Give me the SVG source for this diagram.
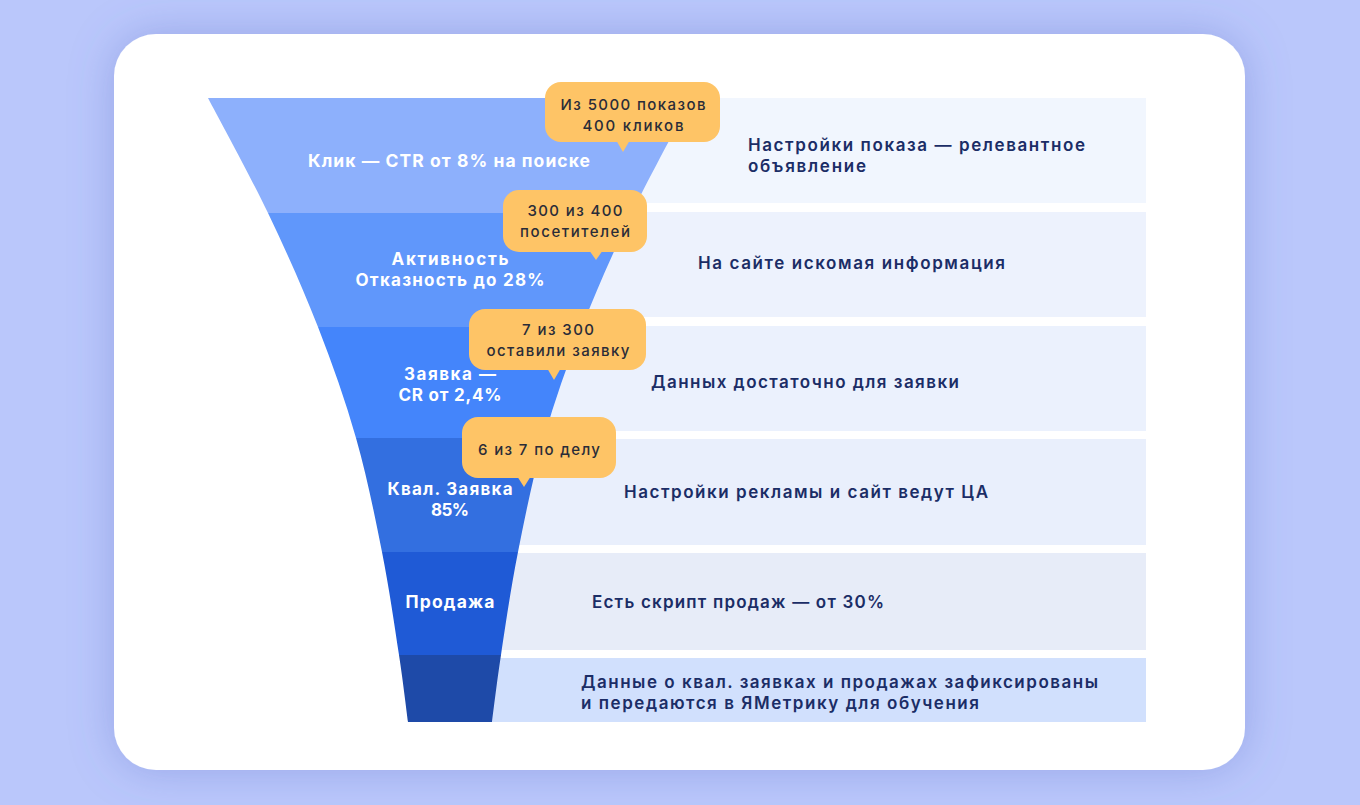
<svg xmlns="http://www.w3.org/2000/svg" width="1360" height="805" viewBox="0 0 1360 805">
<defs>
<style>
.ft{font-family:Inter,"Open Sans","Liberation Sans",sans-serif;font-weight:700;font-size:17px;fill:#ffffff;text-anchor:middle}
.f1{font-size:17.5px}
.rt{font-family:Inter,"Open Sans","Liberation Sans",sans-serif;font-weight:600;font-size:17px;fill:#1b2d66}
.ct{font-family:Inter,"Open Sans","Liberation Sans",sans-serif;font-weight:500;font-size:15px;fill:#2a2c38;text-anchor:middle}
.co{fill:#fec466}
</style>
<filter id="sh" x="-10%" y="-10%" width="120%" height="120%">
<feDropShadow dx="0" dy="0" stdDeviation="22" flood-color="#5468c4" flood-opacity="0.35"/>
</filter>
<clipPath id="fc">
<path d="M208,98 C218,117.2 249.7,174.8 268,213 C286.3,251.2 303.3,289.5 318,327 C332.7,364.5 345.3,400.5 356,438 C366.7,475.5 374.8,515.8 382,552 C389.2,588.2 394.7,626.7 399,655 C403.3,683.3 406.5,710.8 408,722 L492,722 C493.5,710.8 496.7,683.3 501,655 C505.3,626.7 510.8,588.2 518,552 C525.2,515.8 533.3,475.5 544,438 C554.7,400.5 567.3,364.5 582,327 C596.7,289.5 613.7,251.2 632,213 C650.3,174.8 682,117.2 692,98 Z"/>
</clipPath>
</defs>
<rect x="0" y="0" width="1360" height="805" fill="#bac7fb"/>
<rect x="114" y="34" width="1131" height="736" rx="42" fill="#ffffff" filter="url(#sh)"/>

<g id="rows-bg">
<rect x="450" y="98" width="696" height="105" fill="#f1f6fe"/>
<rect x="450" y="212" width="696" height="105" fill="#edf2fd"/>
<rect x="450" y="326" width="696" height="105" fill="#ebf1fd"/>
<rect x="450" y="439" width="696" height="106" fill="#e9effc"/>
<rect x="450" y="553" width="696" height="97" fill="#e7ecf8"/>
<rect x="450" y="658" width="696" height="64" fill="#d1e0fd"/>
</g>

<g id="funnel" clip-path="url(#fc)">
<rect x="200" y="98" width="500" height="115" fill="#8db0fc"/>
<rect x="200" y="213" width="500" height="114" fill="#6097fb"/>
<rect x="200" y="327" width="500" height="111" fill="#4485fb"/>
<rect x="200" y="438" width="500" height="114" fill="#336fe0"/>
<rect x="200" y="552" width="500" height="103" fill="#1f5ad6"/>
<rect x="200" y="655" width="500" height="67" fill="#1e4aa8"/>
</g>

<g id="stage-click">
<text class="ft f1" x="449" y="167" textLength="282">Клик — CTR от 8% на поиске</text>
</g>
<g id="stage-activity">
<text class="ft" x="450" y="265" textLength="117">Активность</text>
<text class="ft" x="450" y="286" textLength="189">Отказность до 28%</text>
</g>
<g id="stage-lead">
<text class="ft" x="450" y="380" textLength="92">Заявка —</text>
<text class="ft" x="450" y="401" textLength="103">CR от 2,4%</text>
</g>
<g id="stage-qual">
<text class="ft" x="450" y="495" textLength="125">Квал. Заявка</text>
<text class="ft" x="450" y="516" textLength="38">85%</text>
</g>
<g id="stage-sale">
<text class="ft f1" x="450" y="608" textLength="89">Продажа</text>
</g>

<g id="desc-1">
<text class="rt" x="748" y="151" textLength="337">Настройки показа — релевантное</text>
<text class="rt" x="748" y="172" textLength="118">объявление</text>
</g>
<g id="desc-2">
<text class="rt" x="698" y="269" textLength="307">На сайте искомая информация</text>
</g>
<g id="desc-3">
<text class="rt" x="651" y="388" textLength="308">Данных достаточно для заявки</text>
</g>
<g id="desc-4">
<text class="rt" x="624" y="498" textLength="364">Настройки рекламы и сайт ведут ЦА</text>
</g>
<g id="desc-5">
<text class="rt" x="592" y="608" textLength="292">Есть скрипт продаж — от 30%</text>
</g>
<g id="desc-6">
<text class="rt" x="581" y="688" textLength="517">Данные о квал. заявках и продажах зафиксированы</text>
<text class="rt" x="581" y="709" textLength="398">и передаются в ЯМетрику для обучения</text>
</g>

<g id="callout-1">
<rect class="co" x="545" y="82" width="175" height="60" rx="16"/>
<polygon class="co" points="616,140 630,140 623,152"/>
<text class="ct" x="633" y="110" textLength="145">Из 5000 показов</text>
<text class="ct" x="633" y="131" textLength="101">400 кликов</text>
</g>
<g id="callout-2">
<rect class="co" x="503" y="190" width="144" height="62" rx="16"/>
<polygon class="co" points="589,250 603,250 596,260"/>
<text class="ct" x="575" y="216" textLength="95">300 из 400</text>
<text class="ct" x="575" y="237" textLength="110">посетителей</text>
</g>
<g id="callout-3">
<rect class="co" x="469" y="309" width="177" height="61" rx="16"/>
<polygon class="co" points="547,368 561,368 554,380"/>
<text class="ct" x="558" y="335" textLength="72">7 из 300</text>
<text class="ct" x="558" y="356" textLength="143">оставили заявку</text>
</g>
<g id="callout-4">
<rect class="co" x="462" y="417" width="154" height="61" rx="16"/>
<polygon class="co" points="517,476 531,476 524,487"/>
<text class="ct" x="539" y="455" textLength="122">6 из 7 по делу</text>
</g>
<g id="connectors"></g>
</svg>
